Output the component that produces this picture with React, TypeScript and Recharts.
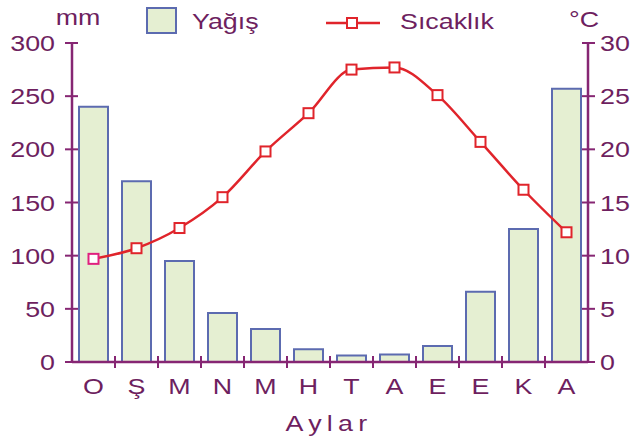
import { ComposedChart, Bar, Line, XAxis, YAxis, Legend, Label } from 'recharts';

const months = ['O', 'Ş', 'M', 'N', 'M', 'H', 'T', 'A', 'E', 'E', 'K', 'A'];
const precipitation = [240, 170, 95, 46, 31, 12, 6, 7, 15, 66, 125, 257];
const temperature = [9.7, 10.7, 12.6, 15.5, 19.8, 23.4, 27.5, 27.7, 25.1, 20.7, 16.2, 12.2];
const mmTicks = [0, 50, 100, 150, 200, 250, 300];
const cTicks = [0, 5, 10, 15, 20, 25, 30];

const data = months.map((month, i) => ({
	month,
	yagis: precipitation[i],
	sicaklik: temperature[i],
}));

const AXIS = '#862673';
const TEXT = '#6e1f5f';
const LINE = '#e0242b';
const FONT = "'Liberation Sans', Arial, sans-serif";

// the source lettering is a bit wider than Arial, so stretch it sideways
const Txt = ({ x, y, anchor = 'start', spacing, children }: any) => (
	<text
		transform={`translate(${x},${y}) scale(1.22,1)`}
		textAnchor={anchor}
		fill={TEXT}
		fontSize={22}
		fontFamily={FONT}
		letterSpacing={spacing}
	>
		{children}
	</text>
);

const LeftTick = ({ x, y, payload }: any) => (
	<g>
		<line x1={x - 7} x2={x + 6} y1={y} y2={y} stroke={AXIS} strokeWidth={2} />
		<Txt x={x - 17} y={y + 8} anchor='end'>
			{payload.value}
		</Txt>
	</g>
);

const RightTick = ({ x, y, payload }: any) => (
	<g>
		<line x1={x - 6} x2={x + 7} y1={y} y2={y} stroke={AXIS} strokeWidth={2} />
		<Txt x={x + 12} y={y + 8}>
			{payload.value}
		</Txt>
	</g>
);

const BottomTick = ({ x, y, payload, index }: any) => (
	<g>
		{index < months.length - 1 && (
			<line x1={x + 21.5} x2={x + 21.5} y1={y - 6} y2={y + 6} stroke={AXIS} strokeWidth={2} />
		)}
		<Txt x={x} y={y + 32} anchor='middle'>
			{payload.value}
		</Txt>
	</g>
);

const Marker = ({ cx, cy, index }: any) => (
	<rect
		x={cx - 5}
		y={cy - 5}
		width={10}
		height={10}
		fill='#fff'
		stroke={index === 0 ? '#e0207f' : LINE}
		strokeWidth={2}
	/>
);

const LegendBox = () => (
	<svg width={634} height={40} style={{ display: 'block' }}>
		<rect x={147} y={8} width={29} height={25} fill='#e5efd2' stroke='#5c6bb0' strokeWidth={2} />
		<Txt x={192} y={29}>
			Yağış
		</Txt>
		<line x1={326} x2={380} y1={23} y2={23} stroke={LINE} strokeWidth={2.5} />
		<rect x={347} y={18} width={10} height={10} fill='#fff' stroke={LINE} strokeWidth={2} />
		<Txt x={400} y={29}>
			Sıcaklık
		</Txt>
	</svg>
);

const App = () => {
	return (
		<div style={{ width: 634, height: 443, background: '#fff', fontFamily: FONT }}>
			<style>{'body{margin:0}'}</style>
			<ComposedChart
				width={634}
				height={443}
				data={data}
				margin={{ top: 3, right: 0, bottom: 41, left: 0 }}
			>
				<Legend
					verticalAlign='top'
					height={40}
					content={<LegendBox />}
					wrapperStyle={{ top: 0, left: 0, width: 634, height: 40 }}
				/>
				<XAxis
					dataKey='month'
					height={40}
					stroke={AXIS}
					strokeWidth={2.5}
					tickLine={false}
					tickSize={0}
					tickMargin={0}
					tick={<BottomTick />}
					interval={0}
				>
					<Label
						content={() => (
							<Txt x={329} y={431} anchor='middle' spacing={4.3}>
								Aylar
							</Txt>
						)}
					/>
				</XAxis>
				<YAxis
					yAxisId='mm'
					orientation='left'
					width={72}
					domain={[0, 300]}
					ticks={mmTicks}
					stroke={AXIS}
					strokeWidth={2.5}
					tickLine={false}
					tickSize={0}
					tickMargin={0}
					tick={<LeftTick />}
				>
					<Label
						content={() => (
							<Txt x={78} y={25} anchor='middle'>
								mm
							</Txt>
						)}
					/>
				</YAxis>
				<YAxis
					yAxisId='c'
					orientation='right'
					width={46}
					domain={[0, 30]}
					ticks={cTicks}
					stroke={AXIS}
					strokeWidth={2.5}
					tickLine={false}
					tickSize={0}
					tickMargin={0}
					tick={<RightTick />}
				>
					<Label
						content={() => (
							<Txt x={584} y={27} anchor='middle'>
								°C
							</Txt>
						)}
					/>
				</YAxis>
				<Bar
					yAxisId='mm'
					dataKey='yagis'
					name='Yağış'
					barSize={29}
					fill='#e5efd2'
					stroke='#5c6bb0'
					strokeWidth={2}
					isAnimationActive={false}
				/>
				<Line
					yAxisId='c'
					type='monotone'
					dataKey='sicaklik'
					name='Sıcaklık'
					stroke={LINE}
					strokeWidth={2.5}
					dot={<Marker />}
					activeDot={false}
					isAnimationActive={false}
				/>
			</ComposedChart>
		</div>
	);
};

export default App;
